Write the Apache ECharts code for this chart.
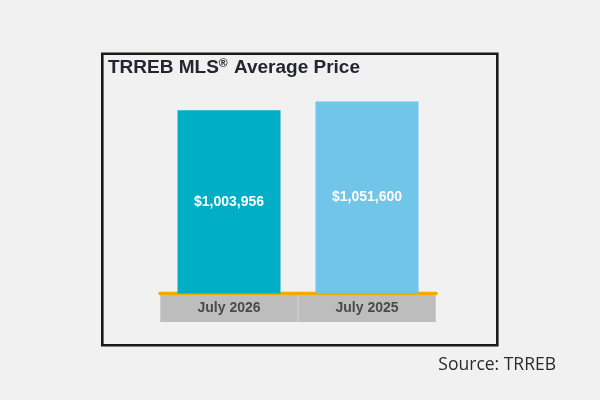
<!DOCTYPE html>
<html>
<head>
<meta charset="utf-8">
<script src="https://cdn.jsdelivr.net/npm/echarts@6/dist/echarts.min.js"></script>
<style>
  html, body { margin: 0; padding: 0; background: #f0f1f0; }
  #main { width: 600px; height: 400px; }
</style>
</head>
<body>
<div id="main"></div>
<script>
var categories = ['July 2026', 'July 2025'];
var prices = [1003956, 1051600];
var barColors = ['#00aec6', '#71c5e9'];

function money(v) {
    return '$' + String(v).replace(/\B(?=(\d{3})+(?!\d))/g, ',');
}

var myChart = echarts.init(document.getElementById('main'));

var option = {
    backgroundColor: '#f0f1f0',
    animation: false,
    title: {
        left: 103,
        top: 53,
        text: '{a|TRREB MLS}{s|®}{a| Average Price}',
        textStyle: {
            rich: {
                a: { fontFamily: 'Liberation Sans', fontWeight: 'bold', fontSize: 19, color: '#232630' },
                s: { fontFamily: 'Liberation Sans', fontWeight: 'bold', fontSize: 12, color: '#232630', verticalAlign: 'top', padding: [0, 1, 0, 0] }
            }
        }
    },
    grid: { left: 160, right: 164, top: 92.7, bottom: 106.5 },
    xAxis: {
        type: 'category',
        data: categories,
        axisLine: { lineStyle: { color: '#f2a900', width: 3.3 } },
        axisTick: { show: false },
        axisLabel: {
            margin: 1.5,
            interval: 0,
            width: 137.5,
            height: 27,
            lineHeight: 27,
            align: 'center',
            backgroundColor: '#bcbdbc',
            color: '#4a4a4a',
            fontFamily: 'Liberation Sans',
            fontWeight: 'bold',
            fontSize: 14
        }
    },
    yAxis: {
        type: 'value',
        min: 0,
        max: 1100000,
        show: false,
        splitLine: { show: false }
    },
    series: [{
        type: 'bar',
        barWidth: 103,
        data: prices.map(function (v, i) {
            return { value: v, itemStyle: { color: barColors[i] } };
        }),
        label: {
            show: true,
            position: 'inside',
            color: '#ffffff',
            fontFamily: 'Liberation Sans',
            fontWeight: 'bold',
            fontSize: 14,
            formatter: function (p) { return money(p.value); }
        }
    }],
    graphic: [
        {
            type: 'rect',
            shape: { x: 102.3, y: 53.8, width: 395, height: 291.5 },
            style: { fill: 'none', stroke: '#1a1a1a', lineWidth: 2.6 },
            z: 100
        },
        {
            type: 'text',
            right: 44,
            top: 356,
            style: { text: 'Source: TRREB', font: '17.5px "Open Sans"', fill: '#2b2b2b' }
        }
    ]
};
myChart.setOption(option);
</script>
</body>
</html>
